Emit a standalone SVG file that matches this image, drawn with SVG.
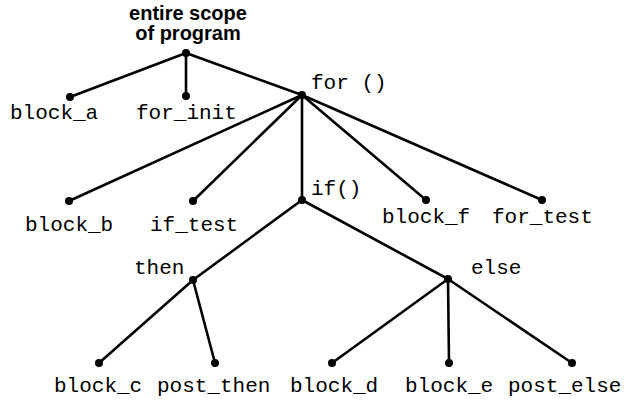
<svg xmlns="http://www.w3.org/2000/svg" width="629" height="404" viewBox="0 0 629 404">
<style>
.e{stroke:#000;stroke-width:2.6;fill:none;stroke-linecap:round}
.d{fill:#000}
.m{font-family:"Liberation Mono","Courier New",monospace;font-size:21px;fill:#000}
.t{font-family:"Liberation Sans",Arial,sans-serif;font-size:20px;font-weight:bold;fill:#000;text-anchor:middle}
</style>
<rect width="629" height="404" fill="#fff"/>
<g id="connectors">
<path class="e" d="M186 53L70 97M186 53L186 96M186 53L302 95"/>
<path class="e" d="M302 95L69 201M302 95L193 201M302 95L302 200M302 95L426 200M302 95L542 200"/>
<path class="e" d="M302 200L193 280M302 200L448 279"/>
<path class="e" d="M193 280L99 363M193 280L215 363"/>
<path class="e" d="M448 279L332 363M448 279L449 363M448 279L572 363"/>
</g>
<g id="root"><circle class="d" cx="186" cy="53" r="4"/><text class="t" x="188" y="20">entire scope</text><text class="t" x="188" y="40">of program</text></g>
<g id="block_a"><circle class="d" cx="70" cy="97" r="4"/><text class="m" x="10" y="119">block_a</text></g>
<g id="for_init"><circle class="d" cx="186" cy="96" r="4"/><text class="m" x="136" y="119">for_init</text></g>
<g id="for"><circle class="d" cx="302" cy="95" r="4"/><text class="m" x="311" y="89">for ()</text></g>
<g id="block_b"><circle class="d" cx="69" cy="201" r="4"/><text class="m" x="25" y="231">block_b</text></g>
<g id="if_test"><circle class="d" cx="193" cy="201" r="4"/><text class="m" x="150" y="231">if_test</text></g>
<g id="if"><circle class="d" cx="302" cy="200" r="4"/><text class="m" x="311" y="195">if()</text></g>
<g id="block_f"><circle class="d" cx="426" cy="200" r="4"/><text class="m" x="382" y="223">block_f</text></g>
<g id="for_test"><circle class="d" cx="542" cy="200" r="4"/><text class="m" x="492" y="223">for_test</text></g>
<g id="then"><circle class="d" cx="193" cy="280" r="4"/><text class="m" x="134" y="274">then</text></g>
<g id="else"><circle class="d" cx="448" cy="279" r="4"/><text class="m" x="471" y="274">else</text></g>
<g id="block_c"><circle class="d" cx="99" cy="363" r="4"/><text class="m" x="54" y="392">block_c</text></g>
<g id="post_then"><circle class="d" cx="215" cy="363" r="4"/><text class="m" x="157" y="392">post_then</text></g>
<g id="block_d"><circle class="d" cx="332" cy="363" r="4"/><text class="m" x="290" y="392">block_d</text></g>
<g id="block_e"><circle class="d" cx="449" cy="363" r="4"/><text class="m" x="405" y="392">block_e</text></g>
<g id="post_else"><circle class="d" cx="572" cy="363" r="4"/><text class="m" x="508" y="392">post_else</text></g>
</svg>
